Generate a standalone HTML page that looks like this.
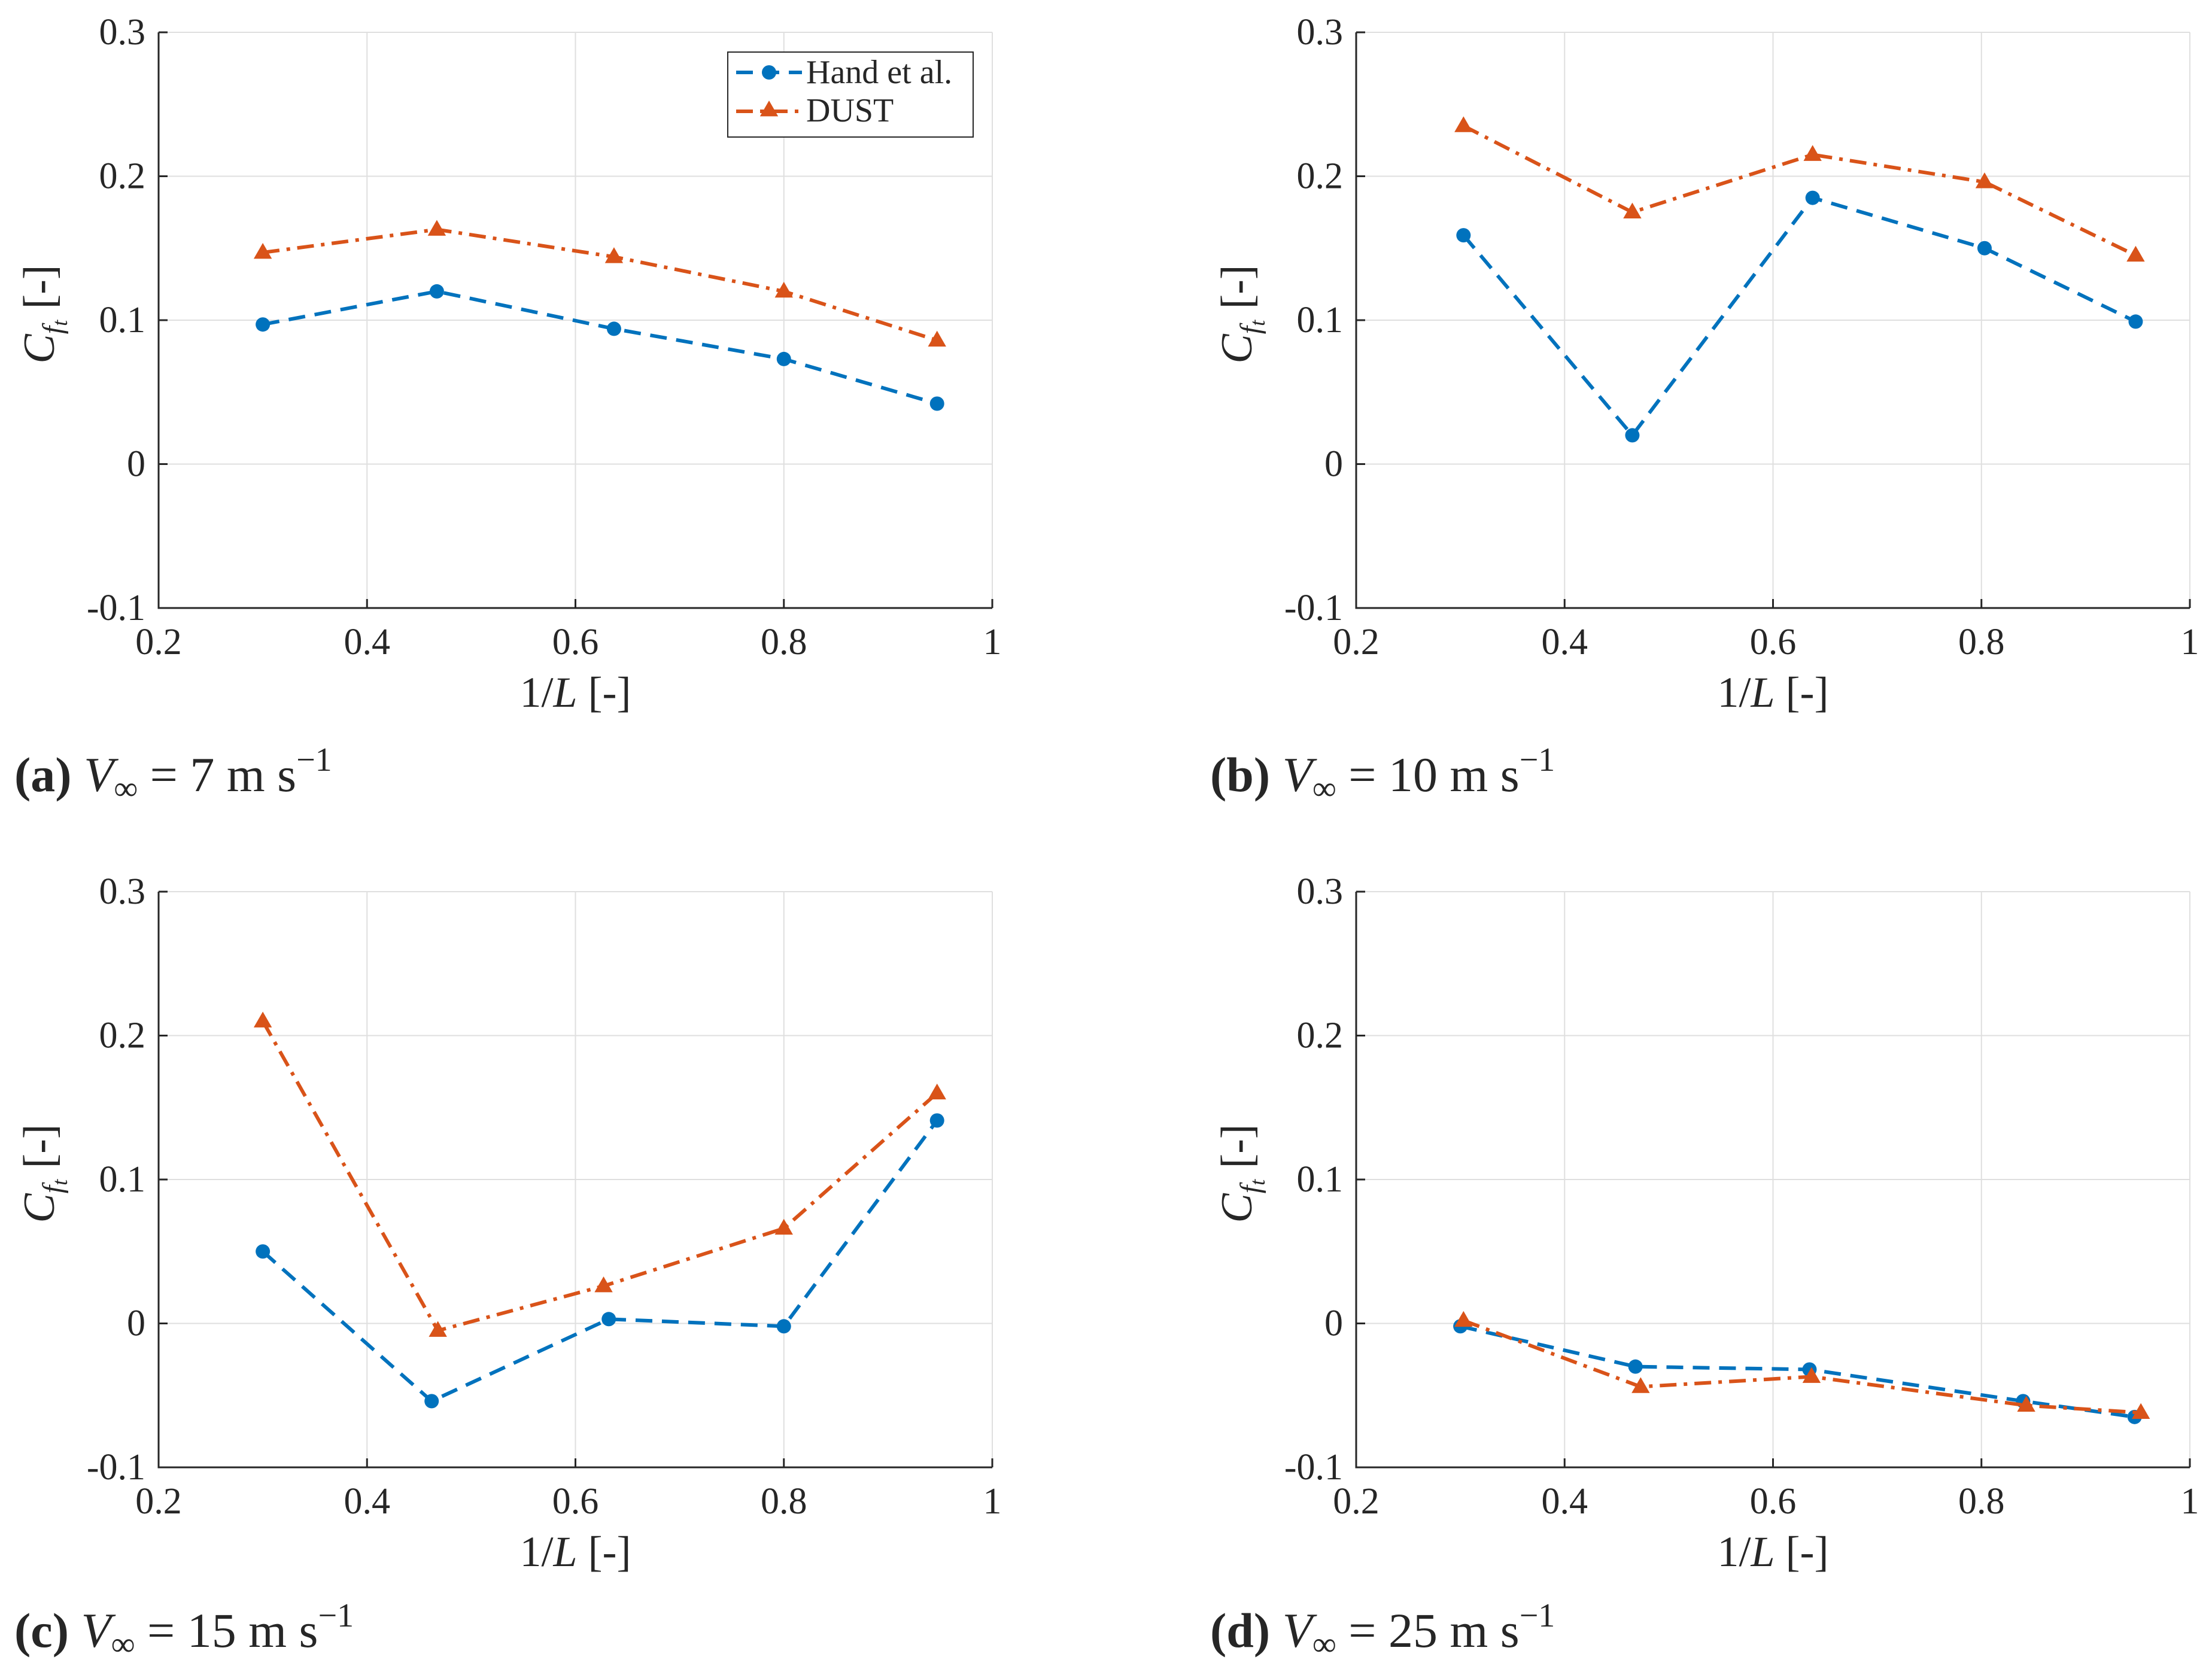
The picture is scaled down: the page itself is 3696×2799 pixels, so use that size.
<!DOCTYPE html>
<html><head><meta charset="utf-8"><style>
body{margin:0;background:#fff}
svg text{font-family:"Liberation Serif","DejaVu Serif",serif;fill:#262626}
</style></head><body>
<svg id="fig" xmlns="http://www.w3.org/2000/svg" width="3696" height="2794" viewBox="0 0 3696 2794" font-family="Liberation Serif, DejaVu Serif, serif">
<style>text{font-family:"Liberation Serif","DejaVu Serif",serif;}</style>
</svg>
<script>
const xTicks=[0.2,0.4,0.6,0.8,1];
const xTickLabels=["0.2","0.4","0.6","0.8","1"];
const yTicks=[-0.1,0,0.1,0.2,0.3];
const yTickLabels=["-0.1","0","0.1","0.2","0.3"];
const aHandX=[0.30,0.467,0.637,0.80,0.947];
const aHandY=[0.097,0.120,0.094,0.073,0.042];
const aDustX=[0.30,0.467,0.637,0.80,0.947];
const aDustY=[0.147,0.163,0.144,0.120,0.086];
const bHandX=[0.303,0.465,0.638,0.803,0.948];
const bHandY=[0.159,0.020,0.185,0.150,0.099];
const bDustX=[0.303,0.465,0.638,0.803,0.948];
const bDustY=[0.235,0.175,0.215,0.196,0.145];
const cHandX=[0.30,0.462,0.632,0.80,0.947];
const cHandY=[0.050,-0.054,0.003,-0.002,0.141];
const cDustX=[0.30,0.468,0.627,0.80,0.947];
const cDustY=[0.210,-0.005,0.026,0.066,0.160];
const dHandX=[0.30,0.468,0.635,0.84,0.947];
const dHandY=[-0.002,-0.030,-0.032,-0.054,-0.065];
const dDustX=[0.303,0.473,0.637,0.843,0.953];
const dDustY=[0.002,-0.044,-0.037,-0.057,-0.062];
const captions=["(a)","(b)","(c)","(d)"];
const speeds=["7","10","15","25"];

const NS="http://www.w3.org/2000/svg";
const svg=document.getElementById('fig');
function mk(tag,attrs,parent){const e=document.createElementNS(NS,tag);for(const k in attrs)e.setAttribute(k,attrs[k]);(parent||svg).appendChild(e);return e;}
const W=1393,H=962;
const panels=[
 {ox:265,oy:54,hx:aHandX,hy:aHandY,dx:aDustX,dy:aDustY,legend:true,cx:24,cy:1322},
 {ox:2266,oy:54,hx:bHandX,hy:bHandY,dx:bDustX,dy:bDustY,legend:false,cx:2022,cy:1322},
 {ox:265,oy:1490,hx:cHandX,hy:cHandY,dx:cDustX,dy:cDustY,legend:false,cx:24,cy:2752},
 {ox:2266,oy:1490,hx:dHandX,hy:dHandY,dx:dDustX,dy:dDustY,legend:false,cx:2022,cy:2752}
];
const BLUE="#0072BD",ORANGE="#D95319";
function tri(g,x,y,s){return mk('polygon',{points:`${x},${y-s} ${x-s*0.95},${y+s*0.65} ${x+s*0.95},${y+s*0.65}`,fill:ORANGE},g);}
panels.forEach((p,i)=>{
 const g=mk('g',{});
 
 
 const sx=v=>p.ox+(v-0.2)/0.8*W;
 const sy=v=>p.oy+(0.3-v)/0.4*H;
 mk('rect',{x:p.ox,y:p.oy,width:W,height:H,fill:'#fff'},g);
 xTicks.forEach(t=>{const l=mk('line',{x1:sx(t),x2:sx(t),y1:p.oy,y2:p.oy+H,stroke:'#dfdfdf','stroke-width':2},g);});
 yTicks.forEach(t=>{const l=mk('line',{x1:p.ox,x2:p.ox+W,y1:sy(t),y2:sy(t),stroke:'#dfdfdf','stroke-width':2},g);});
 const ax=mk('path',{d:`M${p.ox},${p.oy}V${p.oy+H}H${p.ox+W}`,fill:'none',stroke:'#262626','stroke-width':3},g);
 
 xTicks.forEach((t,k)=>{mk('line',{x1:sx(t),x2:sx(t),y1:p.oy+H,y2:p.oy+H-15,stroke:'#262626','stroke-width':3},g);
  const tx=mk('text',{x:sx(t),y:p.oy+H+77,'font-size':62,'text-anchor':'middle'},g);tx.textContent=xTickLabels[k];
  });
 yTicks.forEach((t,k)=>{mk('line',{x1:p.ox,x2:p.ox+15,y1:sy(t),y2:sy(t),stroke:'#262626','stroke-width':3},g);
  const tx=mk('text',{x:p.ox-22,y:sy(t)+20,'font-size':62,'text-anchor':'end'},g);tx.textContent=yTickLabels[k];
  });
 const xl=mk('text',{x:p.ox+W/2,y:p.oy+H+165,'font-size':72,'text-anchor':'middle'},g);
 xl.innerHTML='1/<tspan font-style="italic">L</tspan> [-]';
 
 const yl=mk('text',{transform:`translate(${p.ox-175},${p.oy+H/2-10}) rotate(-90)`,'font-size':74,'text-anchor':'middle'},g);
 yl.innerHTML='<tspan font-style="italic">C</tspan><tspan font-style="italic" font-size="48" dy="14">f</tspan><tspan font-style="italic" font-size="36" dy="8">t</tspan><tspan dy="-22">  [-]</tspan>';
 
 const hp=mk('polyline',{points:p.hx.map((x,k)=>sx(x)+','+sy(p.hy[k])).join(' '),fill:'none',stroke:BLUE,'stroke-width':6,'stroke-dasharray':'28 16'},g);
 
 p.hx.forEach((x,k)=>{const c=mk('circle',{cx:sx(x),cy:sy(p.hy[k]),r:12,fill:BLUE},g);});
 const dp=mk('polyline',{points:p.dx.map((x,k)=>sx(x)+','+sy(p.dy[k])).join(' '),fill:'none',stroke:ORANGE,'stroke-width':6,'stroke-dasharray':'28 12 6 12'},g);
 
 p.dx.forEach((x,k)=>{const t=tri(g,sx(x),sy(p.dy[k]),16);});
 if(p.legend){
  const lg=mk('g',{},g);
  mk('rect',{x:1216,y:87,width:410,height:142,fill:'#fff',stroke:'#262626','stroke-width':2},lg);
  mk('line',{x1:1230,x2:1340,y1:121,y2:121,stroke:BLUE,'stroke-width':6,'stroke-dasharray':'28 16'},lg);
  mk('circle',{cx:1285,cy:121,r:12,fill:BLUE},lg);
  const t1=mk('text',{x:1347,y:139,'font-size':56},lg);t1.textContent='Hand et al.';
  
  mk('line',{x1:1230,x2:1340,y1:186,y2:186,stroke:ORANGE,'stroke-width':6,'stroke-dasharray':'28 12 6 12'},lg);
  tri(lg,1285,184,16);
  const t2=mk('text',{x:1347,y:203,'font-size':56},lg);t2.textContent='DUST';
  
 }
 const cap=mk('text',{x:p.cx,y:p.cy,'font-size':82},g);
 cap.innerHTML=`<tspan font-weight="bold">${captions[i]}</tspan> <tspan font-style="italic">V</tspan><tspan font-size="56" dy="14">∞</tspan><tspan dy="-14"> = ${speeds[i]} m s</tspan><tspan font-size="56" dy="-34">−1</tspan>`;
 
});
</script>
</body></html>
